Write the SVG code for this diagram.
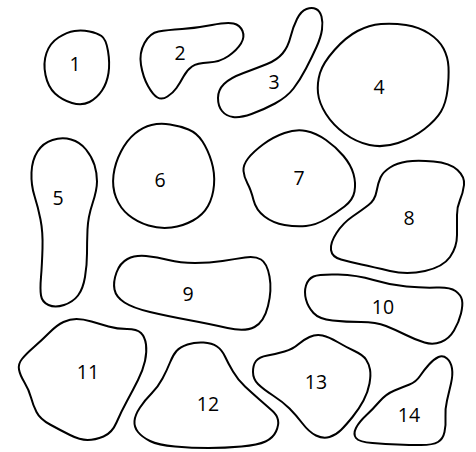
<svg xmlns="http://www.w3.org/2000/svg" width="476" height="452" viewBox="0 0 476 452">
<style>
.blob{fill:#fff;stroke:#000;stroke-width:2;stroke-linejoin:round}
.lbl{font-family:"Open Sans","Liberation Sans",sans-serif;font-size:19.5px;fill:#000;text-anchor:middle}
</style>
<rect width="476" height="452" fill="#fff"/>
<g id="node-1"><path class="blob" d="M74.5,31 Q82,30 89.5,31.5 Q97,33 101.5,36 Q106,39 108,51 Q110,63 108.5,73 Q107,83 102,90.5 Q97,98 89.5,102 Q82,106 72,103 Q62,100 55,93.5 Q48,87 45.5,75 Q43,63 46.5,53 Q50,43 58.5,37.5 Q67,32 74.5,31 Z"/><text class="lbl" x="75" y="71">1</text></g>
<g id="node-2"><path class="blob" d="M144.5,43 Q150,33 158.5,31.5 Q167,30 182,29 Q197,28 212,25 Q227,22 233.5,23.5 Q240,25 242.5,31 Q245,37 241,43.5 Q237,50 228.5,56 Q220,62 208.5,62.5 Q197,63 192,66.5 Q187,70 183.5,76.5 Q180,83 176.5,88 Q173,93 167.5,96.5 Q162,100 157.5,97.5 Q153,95 148,86 Q143,77 141,65 Q139,53 144.5,43 Z"/><text class="lbl" x="180" y="60">2</text></g>
<g id="node-3"><path class="blob" d="M306.5,9 Q312,7 316,9 Q320,11 321.5,16.5 Q323,22 322,29.5 Q321,37 316.5,47 Q312,57 306,68.5 Q300,80 293.5,88.5 Q287,97 275,103.5 Q263,110 251.5,114 Q240,118 233,117 Q226,116 222,111 Q218,106 218,98 Q218,90 224,84 Q230,78 243.5,73 Q257,68 267,64 Q277,60 282.5,53.5 Q288,47 290.5,37 Q293,27 297,19 Q301,11 306.5,9 Z"/><text class="lbl" x="274" y="89">3</text></g>
<g id="node-4"><path class="blob" d="M381,24 Q393,23 406,25 Q419,27 429,33.5 Q439,40 443.5,48.5 Q448,57 448.5,67 Q449,77 447.5,90 Q446,103 441,111.5 Q436,120 424.5,129 Q413,138 398,143 Q383,148 369.5,145 Q356,142 344.5,133.5 Q333,125 326,114 Q319,103 318,93 Q317,83 320,73 Q323,63 334.5,50 Q346,37 357.5,31 Q369,25 381,24 Z"/><text class="lbl" x="379" y="94">4</text></g>
<g id="node-5"><path class="blob" d="M52.5,140 Q62,137 71,139.5 Q80,142 86,149.5 Q92,157 94.5,165 Q97,173 97,181.5 Q97,190 92.5,203.5 Q88,217 87.5,229.5 Q87,242 87,253.5 Q87,265 85,277 Q83,289 78,295.5 Q73,302 64,305 Q55,308 48.5,305 Q42,302 41,295.5 Q40,289 41,277 Q42,265 42.5,248.5 Q43,232 40.5,219.5 Q38,207 34.5,196 Q31,185 31.5,172.5 Q32,160 37.5,151.5 Q43,143 52.5,140 Z"/><text class="lbl" x="58" y="205">5</text></g>
<g id="node-6"><path class="blob" d="M151.5,125 Q160,123 170,124.5 Q180,126 188.5,129.5 Q197,133 202.5,141.5 Q208,150 211.5,161.5 Q215,173 214,185 Q213,197 208,206 Q203,215 193,220.5 Q183,226 171.5,227.5 Q160,229 148.5,225.5 Q137,222 128.5,215 Q120,208 116,197.5 Q112,187 113.5,175 Q115,163 121,151.5 Q127,140 135,133.5 Q143,127 151.5,125 Z"/><text class="lbl" x="160" y="187">6</text></g>
<g id="node-7"><path class="blob" d="M284.5,133 Q296,129 306,131 Q316,133 326,140 Q336,147 343.5,156 Q351,165 353.5,174 Q356,183 354.5,191.5 Q353,200 344.5,206.5 Q336,213 326,219 Q316,225 306,226 Q296,227 284.5,225 Q273,223 264.5,216.5 Q256,210 253.5,200 Q251,190 247.5,183.5 Q244,177 243.5,171 Q243,165 248,158.5 Q253,152 263,144.5 Q273,137 284.5,133 Z"/><text class="lbl" x="299" y="185">7</text></g>
<g id="node-8"><path class="blob" d="M390,167.5 Q397,163 407,161.5 Q417,160 433.5,161.5 Q450,163 457.5,170 Q465,177 464,185 Q463,193 460,200 Q457,207 457,215 Q457,223 457,235 Q457,247 450,257 Q443,267 425,271 Q407,275 390,271 Q373,267 361.5,264.5 Q350,262 341,259.5 Q332,257 331,250 Q330,243 336.5,233 Q343,223 352.5,216.5 Q362,210 368.5,205 Q375,200 376.5,191.5 Q378,183 380.5,177.5 Q383,172 390,167.5 Z"/><text class="lbl" x="409" y="225">8</text></g>
<g id="node-9"><path class="blob" d="M114.5,289.5 Q113,282 116.5,272.5 Q120,263 127.5,259 Q135,255 146,256 Q157,257 168.5,260 Q180,263 195,263 Q210,263 222.5,261 Q235,259 245,257.5 Q255,256 261,259.5 Q267,263 269.5,276.5 Q272,290 268,306 Q264,322 254.5,327 Q245,332 227.5,328 Q210,324 188.5,320 Q167,316 150,312 Q133,308 124.5,302.5 Q116,297 114.5,289.5 Z"/><text class="lbl" x="188" y="301">9</text></g>
<g id="node-10"><path class="blob" d="M313.5,276.5 Q319,274 338,274.5 Q357,275 373.5,280 Q390,285 406.5,286.5 Q423,288 436.5,287.5 Q450,287 455.5,291 Q461,295 462,300 Q463,305 461,313.5 Q459,322 454,330.5 Q449,339 441,342 Q433,345 424.5,342.5 Q416,340 406,335 Q396,330 386,326 Q376,322 361,322 Q346,322 332.5,320.5 Q319,319 313.5,313 Q308,307 306,299.5 Q304,292 306,285.5 Q308,279 313.5,276.5 Z"/><text class="lbl" x="383" y="314">10</text></g>
<g id="node-11"><path class="blob" d="M63.5,322 Q70,319 76.5,319 Q83,319 91.5,321.5 Q100,324 108.5,326.5 Q117,329 127,329 Q137,329 141,333 Q145,337 146,344.5 Q147,352 145,361 Q143,370 138,380 Q133,390 127,401 Q121,412 116.5,422.5 Q112,433 103.5,436.5 Q95,440 87.5,440 Q80,440 70,435 Q60,430 50,424.5 Q40,419 36.5,412 Q33,405 31,397.5 Q29,390 24.5,382.5 Q20,375 19,369.5 Q18,364 22,359 Q26,354 34,347 Q42,340 49.5,332.5 Q57,325 63.5,322 Z"/><text class="lbl" x="88" y="379">11</text></g>
<g id="node-12"><path class="blob" d="M176.5,351 Q180,347 187.5,344.5 Q195,342 203.5,342.5 Q212,343 217,346.5 Q222,350 225,356.5 Q228,363 233,371.5 Q238,380 245,386.5 Q252,393 260,400 Q268,407 272.5,411 Q277,415 278,420 Q279,425 276,431.5 Q273,438 265.5,441.5 Q258,445 241.5,446.5 Q225,448 208.5,448 Q192,448 175,446.5 Q158,445 150,441 Q142,437 138,432 Q134,427 134.5,421 Q135,415 140,407.5 Q145,400 151.5,393.5 Q158,387 162.5,378.5 Q167,370 170,362.5 Q173,355 176.5,351 Z"/><text class="lbl" x="208" y="410.7">12</text></g>
<g id="node-13"><path class="blob" d="M309.5,337 Q316,334 322.5,335.5 Q329,337 337.5,342 Q346,347 354.5,351 Q363,355 366,359.5 Q369,364 370,369.5 Q371,375 369.5,383.5 Q368,392 363.5,400.5 Q359,409 352.5,417 Q346,425 341,430 Q336,435 329.5,437 Q323,439 316,435.5 Q309,432 302.5,423.5 Q296,415 289.5,408.5 Q283,402 273,395.5 Q263,389 258,384 Q253,379 253,372 Q253,365 256,361 Q259,357 267.5,355.5 Q276,354 284.5,351.5 Q293,349 298,344.5 Q303,340 309.5,337 Z"/><text class="lbl" x="316" y="389">13</text></g>
<g id="node-14"><path class="blob" d="M438.5,357 Q443,355 447,358.5 Q451,362 452,368.5 Q453,375 451,383.5 Q449,392 447,400.5 Q445,409 445.5,417 Q446,425 444.5,432 Q443,439 438,442 Q433,445 421,445 Q409,445 397.5,444.5 Q386,444 372.5,443 Q359,442 356,438 Q353,434 356,428 Q359,422 366,415.5 Q373,409 379.5,401.5 Q386,394 394.5,390.5 Q403,387 409.5,384.5 Q416,382 420,376 Q424,370 429,364.5 Q434,359 438.5,357 Z"/><text class="lbl" x="409" y="422">14</text></g>
<g id="connectors"></g>
</svg>
